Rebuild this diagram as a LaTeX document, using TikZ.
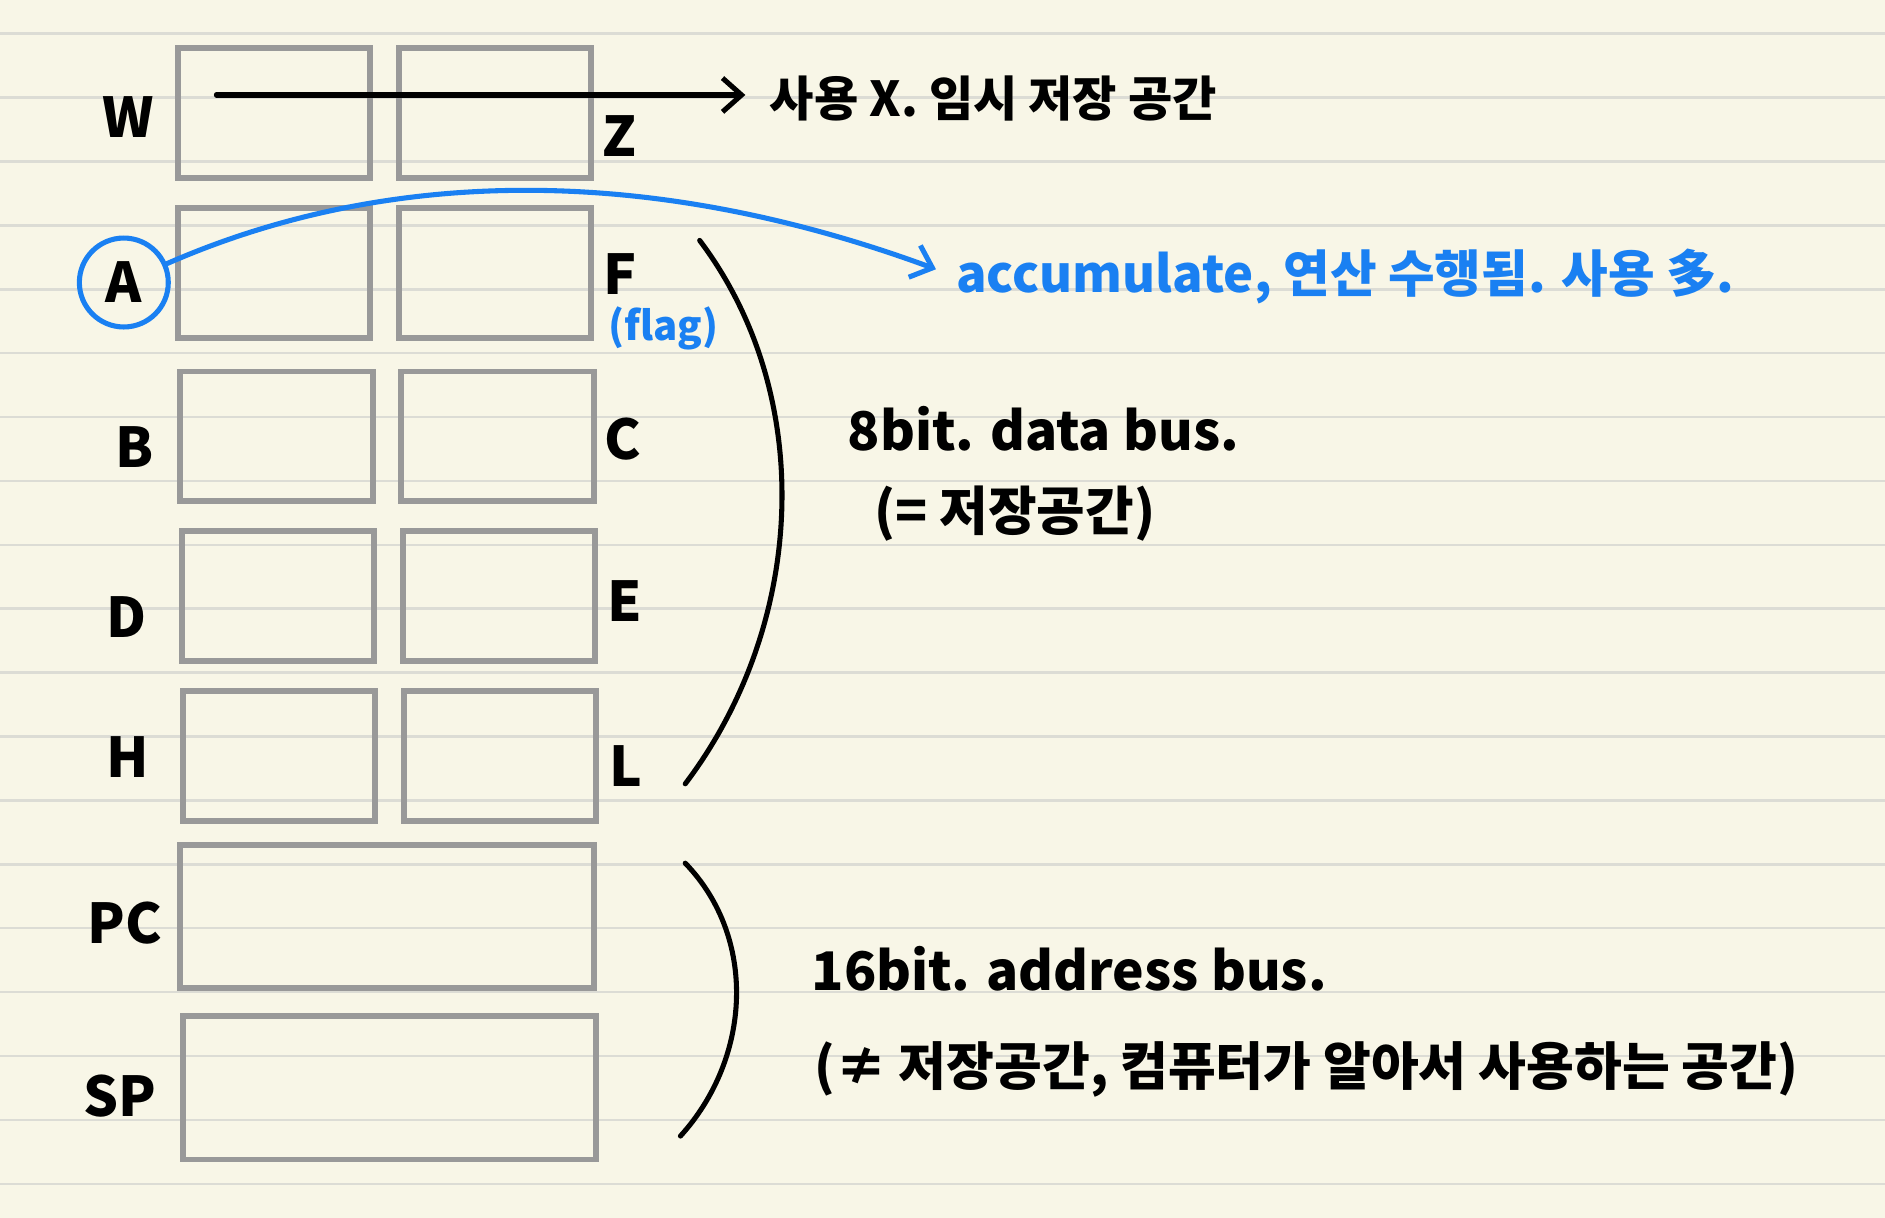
\documentclass[tikz,border=0pt]{standalone}
\usepackage{fontspec}
\usepackage{xcolor}
\usetikzlibrary{positioning,arrows.meta}
\newfontfamily\kr{Noto Sans CJK KR}
\definecolor{paper}{HTML}{F8F6E7}
\definecolor{rulegray}{HTML}{DCDCD5}
\definecolor{boxgray}{HTML}{999999}
\definecolor{penblue}{HTML}{1A80F2}

\begin{document}
\begin{tikzpicture}[x=0.02cm, y=-0.02cm,
  reg/.style={draw=boxgray, line width=2.8pt, minimum width=3.2cm, minimum height=2.16cm, inner sep=0},
  widereg/.style={reg, minimum width=6.88cm, minimum height=2.38cm},
  lbl/.style={font=\kr\bfseries\fontsize{26}{30}\selectfont, inner sep=0},
  note/.style={font=\kr\bfseries\fontsize{24}{28}\selectfont, inner sep=0, anchor=west},
  busnote/.style={note, font=\kr\bfseries\fontsize{25.2}{30}\selectfont},
  pen/.style={line width=2.4pt, line cap=round},
  tip/.style={-{Straight Barb[length=9pt, width=16pt, line width=2.4pt]}}]

\fill[paper] (0,0) rectangle (1568,1013);
\useasboundingbox (0,0) rectangle (1568,1013);
\foreach \i in {0,...,18}
  \draw[rulegray, line width=1.2pt] (0,28+53.15*\i) -- (1568,28+53.15*\i);

% register pairs
\node[reg] (W) at (228,94) {};
\node[reg, right=0.38cm of W] (Z) {};
\node[reg] (A) at (228,227) {};
\node[reg, right=0.38cm of A] (F) {};
\node[reg] (B) at (230,363) {};
\node[reg, right=0.38cm of B] (C) {};
\node[reg] (D) at (231,496) {};
\node[reg, right=0.38cm of D] (E) {};
\node[reg] (H) at (232,629) {};
\node[reg, right=0.38cm of H] (L) {};
\node[widereg] (PC) at (322,762) {};
\node[widereg] (SP) at (324,905) {};

% names
\node[lbl] (Wl) at (107,97) {W};
\node[lbl, circle, draw=penblue, line width=2.4pt, minimum size=1.48cm] (Al) at (103,235) {A};
\node[lbl] (Bl) at (112,372) {B};
\node[lbl] (Dl) at (105,513) {D};
\node[lbl] (Hl) at (106,630) {H};
\node[lbl] (PCl) at (104,768) {PC};
\node[lbl] (SPl) at (100,912) {SP};
\node[lbl] (Zl) at (515,113) {Z};
\node[lbl] (Fl) at (516,228) {F};
\node[lbl, text=penblue, font=\kr\bfseries\fontsize{19}{22}\selectfont] (flag) at (552,273) {(flag)};
\node[lbl] (Cl) at (518,365) {C};
\node[lbl] (El) at (520,500) {E};
\node[lbl] (Ll) at (521,637) {L};

% notes
\node[note, font=\kr\bfseries\fontsize{22.8}{27}\selectfont] (tmp) at (640,82) {사용 X. 임시 저장 공간};
\node[note, text=penblue] (acc) at (795,230) {accumulate, 연산 수행됨. 사용 多.};
\node[busnote] (data) at (705,357) {8bit. data bus.};
\node[note, font=\kr\bfseries\fontsize{25}{30}\selectfont] (datab) at (727,427) {(= 저장공간)};
\node[busnote] (addr) at (675,806) {16bit. address bus.};
\node[note, font=\kr\bfseries\fontsize{24.6}{30}\selectfont] (addrb) at (677,890) {(≠ 저장공간, 컴퓨터가 알아서 사용하는 공간)};

\coordinate (wstart) at (180,79);
\draw[pen, tip, shorten >=0.4cm] (wstart) -- (wstart -| tmp.west);
\draw[pen, penblue, tip, shorten >=0.35cm] (Al) .. controls (320,140) and (537,135) .. (acc.west);

% brackets
\draw[pen] (582,200) .. controls (680,330) and (670,520) .. (570,652);
\draw[pen] (570,718) .. controls (630,780) and (625,880) .. (566,945);

\end{tikzpicture}
\end{document}
